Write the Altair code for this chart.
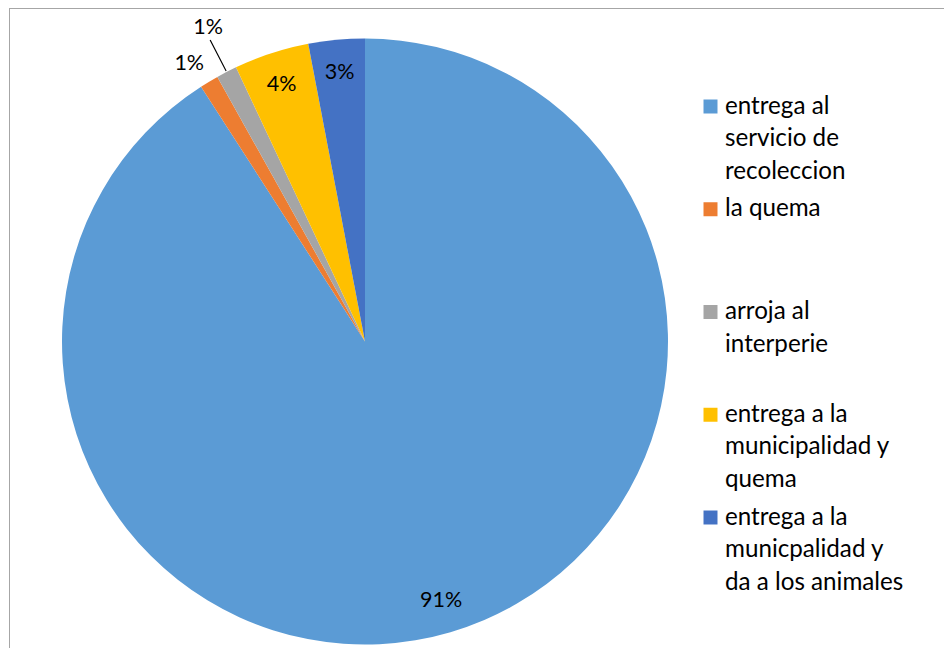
import altair as alt
import pandas as pd

# ---- data ----
categories = [
    "entrega al servicio de recoleccion",
    "la quema",
    "arroja al interperie",
    "entrega a la municipalidad y quema",
    "entrega a la municpalidad y da a los animales",
]
values = [90.9, 1.0, 1.1, 4.0, 3.0]
legend_labels = [
    "entrega al\nservicio de\nrecoleccion",
    "la quema",
    "arroja al\ninterperie",
    "entrega a la\nmunicipalidad y\nquema",
    "entrega a la\nmunicpalidad y\nda a los animales",
]
colors = ["#5B9BD5", "#ED7D31", "#A5A5A5", "#FFC000", "#4472C4"]

df = pd.DataFrame({
    "cat": categories,
    "value": values,
    "order": list(range(len(categories))),
    "legend": legend_labels,
})

W, H = 936, 640
CX, CY, R = 357, 333.5, 303
FONT = "Lato"
FS = 21.5
LFS = 24.2

color = alt.Color("cat:N", scale=alt.Scale(domain=categories, range=colors), legend=None)

base = alt.Chart(df).transform_window(
    cum="sum(value)", sort=[alt.SortField("order")], frame=[None, 0]
).transform_joinaggregate(
    total="sum(value)"
).transform_calculate(
    t1="2*PI*datum.cum/datum.total",
    t0="2*PI*(datum.cum-datum.value)/datum.total",
).transform_calculate(
    tm="(datum.t0+datum.t1)/2",
    pct="format(datum.value/datum.total, '.0%')",
).transform_calculate(
    l0="datum.tm-0.0018",
    l1="datum.tm+0.0018",
)

arcs = base.mark_arc().encode(
    theta=alt.Theta("t0:Q", scale=None),
    theta2="t1:Q",
    radius=alt.value(R),
    x=alt.value(CX), y=alt.value(CY),
    color=color,
)

def label_layer(filt, r, dx=0, dy=0):
    return base.transform_filter(filt).mark_text(
        font=FONT, fontSize=FS, color="black", align="center", baseline="middle",
        dx=dx, dy=dy
    ).encode(
        theta=alt.Theta("tm:Q", scale=None),
        radius=alt.value(r),
        x=alt.value(CX), y=alt.value(CY),
        text="pct:N",
    )

lab_in = label_layer("datum.value >= 2", 270)
lab_or = label_layer("datum.order == 1", 330, dx=-6, dy=5)
lab_gr = label_layer("datum.order == 2", 352, dx=4, dy=0)

leader = base.transform_filter("datum.order == 2").mark_arc(color="black").encode(
    theta=alt.Theta("l0:Q", scale=None),
    theta2="l1:Q",
    radius=alt.value(339), radius2=alt.value(304),
    x=alt.value(CX), y=alt.value(CY),
)

ysc = alt.Scale(type="point", domain=categories, range=[98.5, 509.5], padding=0)

leg_sq = alt.Chart(df).mark_square(size=196, opacity=1).encode(
    x=alt.value(702.5),
    y=alt.Y("cat:N", scale=ysc, axis=None),
    color=color,
)
leg_tx = alt.Chart(df).transform_calculate(
    lines="split(datum.legend, '\\n')"
).mark_text(
    font=FONT, fontSize=LFS, color="black", align="left", baseline="top",
    dy=-12, lineHeight=32.5
).encode(
    x=alt.value(717),
    y=alt.Y("cat:N", scale=ysc, axis=None),
    text="lines:N",
)

one = pd.DataFrame({"k": [0]})
border_left = alt.Chart(one).mark_rule(color="#A6A6A6", strokeWidth=1).encode(
    x=alt.value(1.5), y=alt.value(0), y2=alt.value(H)
)
border_top = alt.Chart(one).mark_rule(color="#A6A6A6", strokeWidth=1).encode(
    x=alt.value(1), x2=alt.value(W), y=alt.value(0.5)
)

chart = alt.layer(
    arcs, lab_in, lab_or, lab_gr, leader, leg_sq, leg_tx, border_left, border_top
).properties(
    width=W, height=H, padding=0, autosize=alt.AutoSizeParams(type="none")
).configure_view(strokeWidth=0)

chart.save("out.html", embed_options={"renderer": "svg", "actions": False})
